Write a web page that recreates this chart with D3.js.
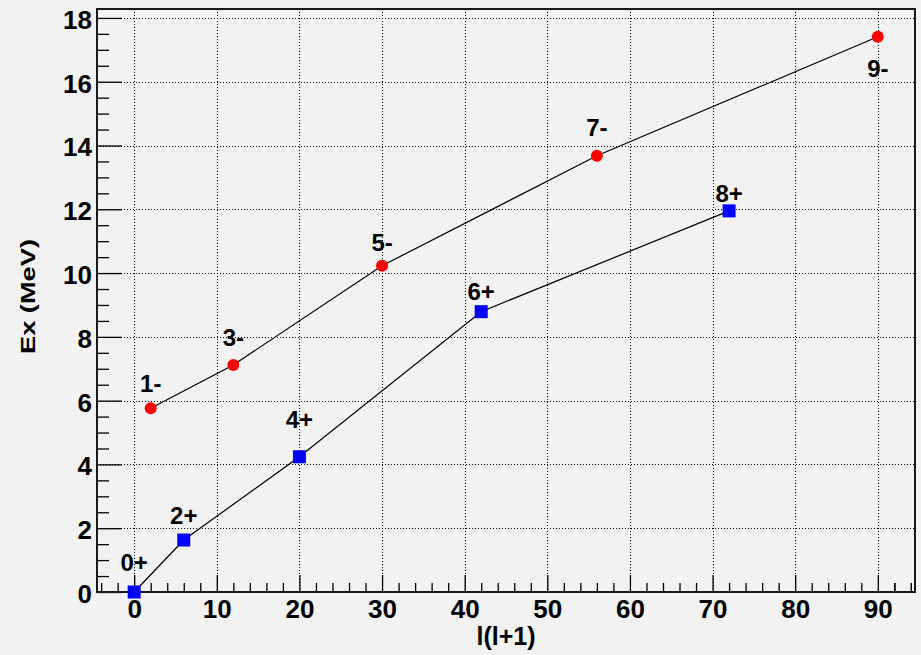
<!DOCTYPE html>
<html>
<head>
<meta charset="utf-8">
<script src="https://cdn.jsdelivr.net/npm/d3@7/dist/d3.min.js"></script>
<style>
  html, body { margin: 0; padding: 0; background: #f2f2f2; }
  svg { display: block; }
  text { font-family: "Liberation Sans", Arial, Helvetica, sans-serif; font-weight: bold; fill: #000; }
</style>
</head>
<body>
<script>
// ---- data ----
const negLL = [2, 12, 30, 56, 90];                 // l(l+1), negative-parity band
const negEx = [5.76, 7.12, 10.23, 13.68, 17.41];   // Ex (MeV)
const negLabels = ["1-", "3-", "5-", "7-", "9-"];
const negLabelEx = [6.28, 7.71, 10.68, 14.31, 16.16]; // label baselines (MeV)

const posLL = [0, 6, 20, 42, 72];                  // l(l+1), positive-parity band
const posEx = [0.0, 1.63, 4.24, 8.79, 11.95];
const posLabels = ["0+", "2+", "4+", "6+", "8+"];
const posLabelEx = [0.67, 2.13, 5.13, 9.16, 12.24];

const xTickValues = [0, 10, 20, 30, 40, 50, 60, 70, 80, 90];
const yTickValues = [0, 2, 4, 6, 8, 10, 12, 14, 16, 18];
const xDomain = [-4.5, 94.5];
const yDomain = [0, 18.28];
const xTitle = "l(l+1)";
const yTitle = "Ex (MeV)";

// ---- layout ----
const W = 921, H = 655;
const L = 97, R = 915, T = 9, B = 592;

const svg = d3.select("body").append("svg").attr("width", W).attr("height", H);
svg.append("rect").attr("width", W).attr("height", H).attr("fill", "#f2f2f2");

const x = d3.scaleLinear().domain(xDomain).range([L, R]);
const y = d3.scaleLinear().domain(yDomain).range([B, T]);

// grid (dotted)
const grid = svg.append("g").attr("stroke", "#000").attr("stroke-width", 1)
  .attr("stroke-dasharray", "1,2").attr("shape-rendering", "crispEdges");
grid.selectAll("line.v").data(xTickValues).join("line").attr("class", "v")
  .attr("x1", d => Math.round(x(d)) + 0.5).attr("x2", d => Math.round(x(d)) + 0.5)
  .attr("y1", T).attr("y2", B);
grid.selectAll("line.h").data(yTickValues.filter(d => d > 0)).join("line").attr("class", "h")
  .attr("y1", d => Math.round(y(d)) + 0.5).attr("y2", d => Math.round(y(d)) + 0.5)
  .attr("x1", L).attr("x2", R);

// minor ticks
const xMinor = d3.range(0, 95, 2).filter(d => d % 10 !== 0).concat([-4, -2, 92, 94]);
const yMinor = d3.range(0, 18.25, 0.5).filter(d => d % 2 !== 0);

const xMinorAxis = svg.append("g").attr("transform", `translate(0,${B})`)
  .call(d3.axisBottom(x).tickValues(xMinor).tickSize(-9).tickFormat(""));
const yMinorAxis = svg.append("g").attr("transform", `translate(${L},0)`)
  .call(d3.axisLeft(y).tickValues(yMinor).tickSize(-12).tickFormat(""));

// major axes
const xAxis = svg.append("g").attr("transform", `translate(0,${B})`)
  .call(d3.axisBottom(x).tickValues(xTickValues).tickSize(-17).tickPadding(8).tickFormat(d3.format("d")));
const yAxis = svg.append("g").attr("transform", `translate(${L},0)`)
  .call(d3.axisLeft(y).tickValues(yTickValues).tickSize(-25).tickPadding(5).tickFormat(d3.format("d")));

[xMinorAxis, yMinorAxis, xAxis, yAxis].forEach(g => {
  g.select(".domain").remove();
  g.selectAll(".tick line").attr("stroke", "#000").attr("stroke-width", 1.3);
});
xAxis.selectAll(".tick text").attr("font-size", 26).attr("fill", "#000");
yAxis.selectAll(".tick text").attr("font-size", 26).attr("fill", "#000").attr("dy", "0.4em");

// frame
svg.append("rect").attr("x", L).attr("y", T).attr("width", R - L).attr("height", B - T)
  .attr("fill", "none").attr("stroke", "#1a1a1a").attr("stroke-width", 2);

// axis titles
svg.append("text").attr("x", (L + R) / 2).attr("y", 645).attr("text-anchor", "middle")
  .attr("font-size", 25).text(xTitle);
svg.append("text").attr("transform", `translate(35,${(T + B) / 2 - 4}) rotate(-90)`)
  .attr("text-anchor", "middle").attr("font-size", 21)
  .attr("textLength", 115).attr("lengthAdjust", "spacingAndGlyphs").text(yTitle);

// series lines
const line = d3.line().x(d => x(d[0])).y(d => y(d[1]));
const negPts = negLL.map((v, i) => [v, negEx[i]]);
const posPts = posLL.map((v, i) => [v, posEx[i]]);
svg.append("path").datum(negPts).attr("d", line).attr("fill", "none").attr("stroke", "#000").attr("stroke-width", 1.2);
svg.append("path").datum(posPts).attr("d", line).attr("fill", "none").attr("stroke", "#000").attr("stroke-width", 1.2);

// markers
svg.append("g").selectAll("circle").data(negPts).join("circle")
  .attr("cx", d => x(d[0])).attr("cy", d => y(d[1])).attr("r", 6).attr("fill", "#ff0000");
const s = 13;
svg.append("g").selectAll("rect").data(posPts).join("rect")
  .attr("x", d => x(d[0]) - s / 2).attr("y", d => y(d[1]) - s / 2)
  .attr("width", s).attr("height", s).attr("fill", "#0000ff");

// level labels
svg.append("g").selectAll("text").data(negLabels).join("text")
  .attr("x", (d, i) => x(negLL[i])).attr("y", (d, i) => y(negLabelEx[i]))
  .attr("text-anchor", "middle").attr("font-size", 24).text(d => d);
svg.append("g").selectAll("text").data(posLabels).join("text")
  .attr("x", (d, i) => x(posLL[i])).attr("y", (d, i) => y(posLabelEx[i]))
  .attr("text-anchor", "middle").attr("font-size", 24).text(d => d);
</script>
</body>
</html>
